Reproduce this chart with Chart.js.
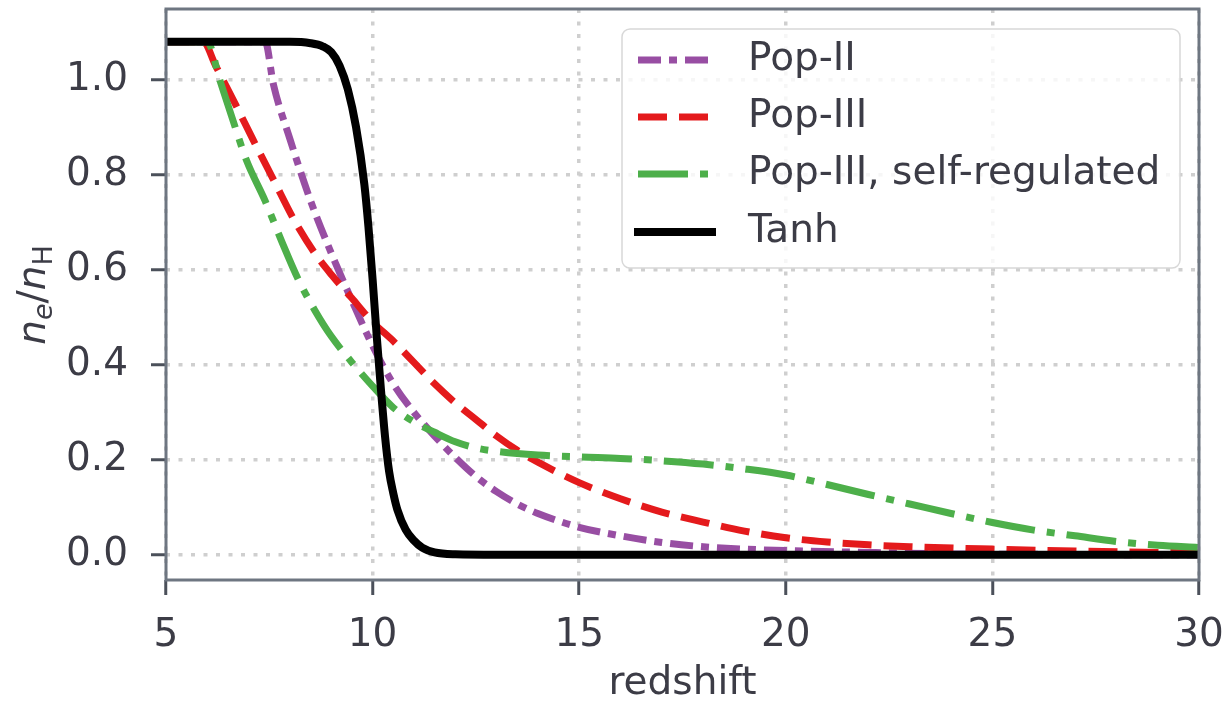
<!DOCTYPE html>
<html>
<head>
<meta charset="utf-8">
<script src="https://cdn.jsdelivr.net/npm/chart.js@4/dist/chart.umd.min.js"></script>
<style>
  html, body { margin: 0; padding: 0; background: #ffffff; }
  canvas { display: block; }
</style>
</head>
<body>
<canvas id="chart" width="1227" height="705"></canvas>
<script>
// Axis ticks
const xTicks = [5, 10, 15, 20, 25, 30];
const yTicks = [0.0, 0.2, 0.4, 0.6, 0.8, 1.0];
const xLimits = [5, 30];
const yLimits = [-0.053, 1.149];

// Series labels
const seriesNames = ['Pop-II', 'Pop-III', 'Pop-III, self-regulated', 'Tanh'];

// Pop-II ionization history
const popIIz  = [5.0, 7.4, 7.6, 8.0, 8.5, 9.0, 9.5, 10.0, 10.5, 11.0, 11.5, 12.0, 12.5, 13.0, 13.5, 14.0, 15.0, 16.0, 17.0, 18.0, 19.0, 20.0, 22.0, 24.0, 26.0, 30.0];
const popIIxe = [1.08, 1.08, 0.99, 0.875, 0.745, 0.635, 0.535, 0.44, 0.36, 0.30, 0.25, 0.205, 0.165, 0.133, 0.107, 0.087, 0.058, 0.04, 0.026, 0.017, 0.012, 0.009, 0.005, 0.002, 0.001, 0.0];

// Pop-III ionization history
const popIIIz  = [5.0, 5.9, 6.2, 6.7, 7.1, 7.6, 8.1, 8.6, 9.0, 9.5, 10.0, 10.5, 11.0, 11.5, 12.0, 12.5, 13.0, 13.5, 14.0, 15.0, 16.0, 17.0, 18.0, 19.0, 20.0, 21.0, 22.0, 23.0, 25.0, 27.0, 29.0, 30.0];
const popIIIxe = [1.08, 1.08, 1.03, 0.945, 0.875, 0.79, 0.705, 0.635, 0.59, 0.54, 0.49, 0.45, 0.405, 0.36, 0.32, 0.285, 0.25, 0.22, 0.195, 0.152, 0.118, 0.09, 0.069, 0.05, 0.036, 0.027, 0.021, 0.017, 0.012, 0.008, 0.005, 0.004];

// Pop-III, self-regulated ionization history
const selfRegZ  = [5.0, 6.0, 6.3, 6.6, 6.95, 7.4, 7.8, 8.2, 8.6, 9.0, 9.5, 10.0, 10.5, 11.0, 11.5, 12.0, 12.5, 13.0, 14.0, 15.0, 16.0, 17.0, 18.0, 19.0, 20.0, 21.0, 22.0, 23.0, 24.0, 25.0, 26.0, 27.0, 28.0, 29.0, 30.0];
const selfRegXe = [1.08, 1.08, 1.0, 0.92, 0.83, 0.745, 0.66, 0.58, 0.515, 0.46, 0.405, 0.355, 0.31, 0.28, 0.258, 0.238, 0.225, 0.218, 0.21, 0.206, 0.203, 0.198, 0.191, 0.181, 0.168, 0.148, 0.127, 0.107, 0.087, 0.068, 0.052, 0.04, 0.028, 0.02, 0.0155];

// Tanh reionization model
const tanhZ  = [5.0, 8.0, 8.5, 8.8, 9.0, 9.2, 9.4, 9.6, 9.8, 9.9, 10.0, 10.1, 10.2, 10.3, 10.4, 10.5, 10.6, 10.8, 11.0, 11.2, 11.5, 12.0, 13.0, 30.0];
const tanhXe = [1.08, 1.08, 1.077, 1.07, 1.058, 1.03, 0.98, 0.90, 0.78, 0.69, 0.58, 0.46, 0.35, 0.25, 0.175, 0.13, 0.095, 0.053, 0.03, 0.015, 0.005, 0.001, 0.0, 0.0];

const TEXT = '#3c3c46';
const FRAME = '#6e7681';
const FONT = '"DejaVu Sans", "Liberation Sans", sans-serif';

function pts(zs, vs) { return zs.map((z, i) => ({ x: z, y: vs[i] })); }

const styles = [
  { color: '#984ea3', width: 7, dash: [23, 8, 8, 8], order: 3 },
  { color: '#e41a1c', width: 7, dash: [29, 12], order: 2 },
  { color: '#4daf4a', width: 7, dash: [50, 12, 8, 12], order: 1 },
  { color: '#000000', width: 8, dash: [], order: 0 }
];
const seriesData = [pts(popIIz, popIIxe), pts(popIIIz, popIIIxe), pts(selfRegZ, selfRegXe), pts(tanhZ, tanhXe)];

const datasets = seriesNames.map((name, i) => ({
  label: name,
  data: seriesData[i],
  borderColor: styles[i].color,
  backgroundColor: styles[i].color,
  borderWidth: styles[i].width,
  borderDash: styles[i].dash,
  borderCapStyle: 'butt',
  borderJoinStyle: 'round',
  pointRadius: 0,
  fill: false,
  cubicInterpolationMode: 'monotone',
  order: styles[i].order
}));

function zeroPadding(scale) {
  scale.paddingLeft = 0;
  scale.paddingRight = 0;
  scale.paddingTop = 0;
  scale.paddingBottom = 0;
}

// Plot frame on all four sides
const framePlugin = {
  id: 'frame',
  afterDatasetsDraw(chart) {
    const { ctx, chartArea: a } = chart;
    ctx.save();
    ctx.strokeStyle = FRAME;
    ctx.lineWidth = 3;
    ctx.strokeRect(a.left, a.top, a.right - a.left, a.bottom - a.top);
    ctx.restore();
  }
};

// y-axis label n_e / n_H with sub-scripts
const yLabelPlugin = {
  id: 'yLabel',
  afterDraw(chart) {
    const { ctx, chartArea: a } = chart;
    const main = 39, sub = 27, drop = 7;
    const parts = [
      { t: 'n', f: `italic ${main}px ${FONT}`, dy: 0 },
      { t: 'e', f: `italic ${sub}px ${FONT}`, dy: drop },
      { t: '/', f: `${main}px ${FONT}`, dy: 0 },
      { t: 'n', f: `italic ${main}px ${FONT}`, dy: 0 },
      { t: 'H', f: `${sub}px ${FONT}`, dy: drop }
    ];
    ctx.save();
    let total = 0;
    parts.forEach(p => { ctx.font = p.f; p.w = ctx.measureText(p.t).width; total += p.w; });
    ctx.translate(45, 295);
    ctx.rotate(-Math.PI / 2);
    ctx.fillStyle = TEXT;
    ctx.textBaseline = 'alphabetic';
    ctx.textAlign = 'left';
    let x = -total / 2;
    parts.forEach(p => { ctx.font = p.f; ctx.fillText(p.t, x, p.dy); x += p.w; });
    ctx.restore();
  }
};

// Legend box with line samples
const legendPlugin = {
  id: 'lineLegend',
  afterDraw(chart) {
    const { ctx } = chart;
    const box = { x: 622, y: 29, w: 558, h: 239, r: 8 };
    const rows = [60, 117, 174, 232];
    ctx.save();
    ctx.beginPath();
    ctx.roundRect(box.x, box.y, box.w, box.h, box.r);
    ctx.fillStyle = 'rgba(255,255,255,0.8)';
    ctx.fill();
    ctx.strokeStyle = '#d8d8d8';
    ctx.lineWidth = 1.5;
    ctx.stroke();
    chart.data.datasets.forEach((ds, i) => {
      const y = rows[i];
      ctx.beginPath();
      ctx.setLineDash(ds.borderDash);
      ctx.lineCap = 'butt';
      ctx.strokeStyle = ds.borderColor;
      ctx.lineWidth = ds.borderWidth;
      const x0 = ds.borderDash.length ? 638 : 634;
      const x1 = ds.borderDash.length ? 709 : 716;
      ctx.moveTo(x0, y);
      ctx.lineTo(x1, y);
      ctx.stroke();
      ctx.setLineDash([]);
      ctx.fillStyle = TEXT;
      ctx.font = `39px ${FONT}`;
      ctx.textBaseline = 'middle';
      ctx.textAlign = 'left';
      ctx.fillText(ds.label, 748, y);
    });
    ctx.restore();
  }
};

new Chart(document.getElementById('chart'), {
  type: 'line',
  data: { datasets },
  options: {
    responsive: false,
    animation: false,
    devicePixelRatio: 1,
    layout: { padding: { left: 0, top: 9, right: 28, bottom: 0 } },
    plugins: { legend: { display: false }, tooltip: { enabled: false } },
    scales: {
      x: {
        type: 'linear',
        min: xLimits[0],
        max: xLimits[1],
        afterFit(scale) { scale.height = 125; zeroPadding(scale); },
        afterBuildTicks(scale) { scale.ticks = xTicks.map(v => ({ value: v })); },
        ticks: {
          color: TEXT,
          font: { family: FONT, size: 39 },
          padding: 17,
          maxRotation: 0,
          autoSkip: false,
          callback: v => String(v)
        },
        grid: {
          color: '#cfcfcf',
          lineWidth: 3.5,
          drawTicks: true,
          tickLength: 15,
          tickWidth: 3,
          tickColor: '#4b505a',
          tickBorderDash: []
        },
        border: { display: false, dash: [4, 8.5] },
        title: {
          display: true,
          text: 'redshift',
          color: TEXT,
          font: { family: FONT, size: 39, lineHeight: 1.0 },
          padding: { top: 0, bottom: 2 }
        }
      },
      y: {
        type: 'linear',
        min: yLimits[0],
        max: yLimits[1],
        afterFit(scale) { scale.width = 166; zeroPadding(scale); },
        afterBuildTicks(scale) { scale.ticks = yTicks.map(v => ({ value: v })); },
        ticks: {
          color: TEXT,
          font: { family: FONT, size: 39 },
          padding: 23,
          autoSkip: false,
          callback: v => Number(v).toFixed(1)
        },
        grid: {
          color: '#cfcfcf',
          lineWidth: 3.5,
          drawTicks: true,
          tickLength: 15,
          tickWidth: 3,
          tickColor: '#4b505a',
          tickBorderDash: []
        },
        border: { display: false, dash: [4, 8.5] }
      }
    }
  },
  plugins: [framePlugin, yLabelPlugin, legendPlugin]
});
</script>
</body>
</html>
